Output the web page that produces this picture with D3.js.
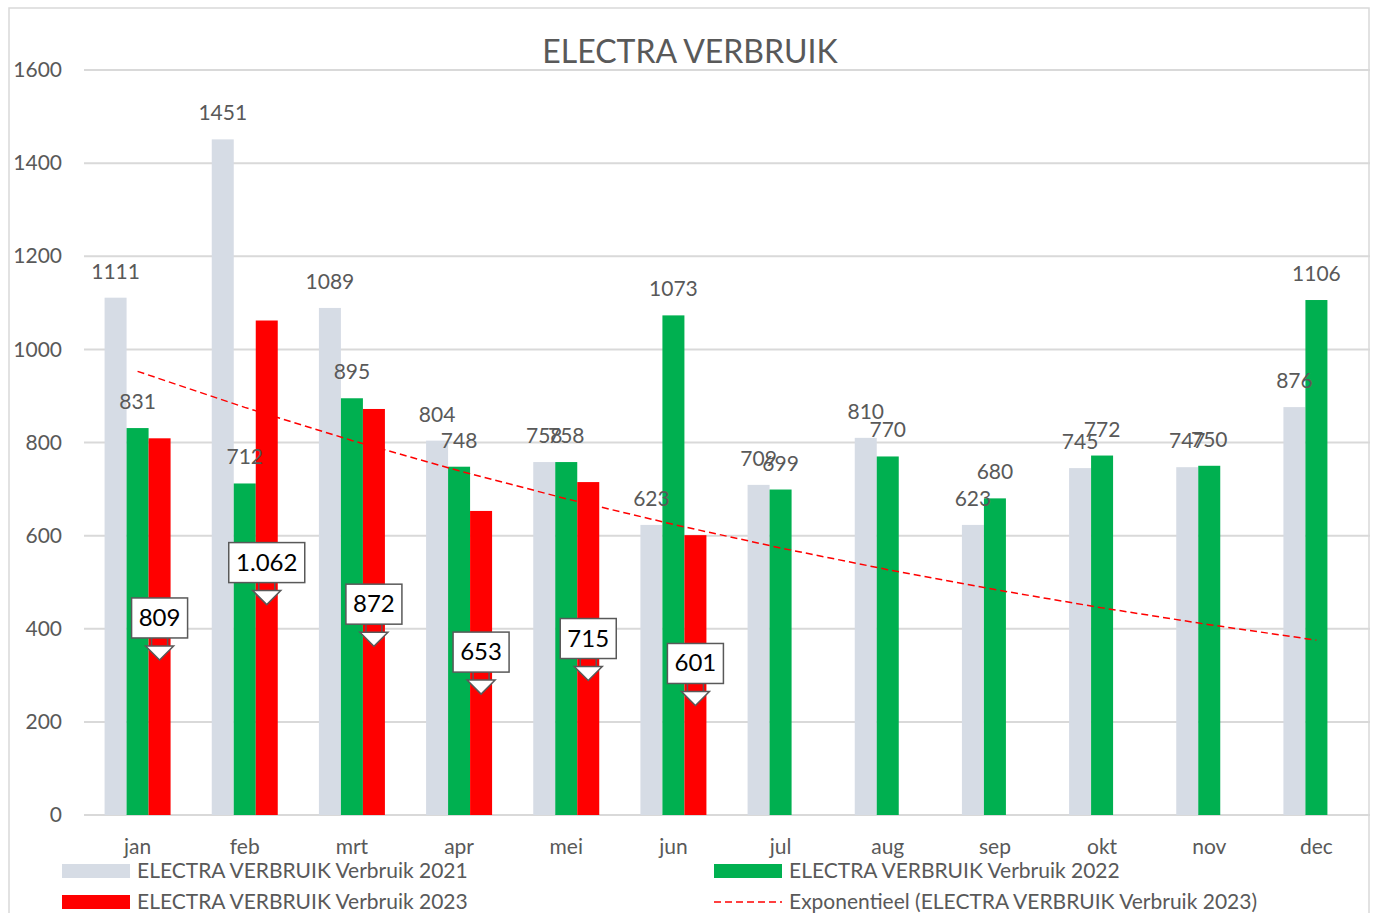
<!DOCTYPE html>
<html>
<head>
<meta charset="utf-8">
<script src="https://cdn.jsdelivr.net/npm/d3@7"></script>
<style>
  body { margin: 0; background: #fff; }
  text { font-family: Lato, "Open Sans", sans-serif; }
</style>
</head>
<body>
<div id="chart"></div>
<script>
// data
var months = ["jan", "feb", "mrt", "apr", "mei", "jun", "jul", "aug", "sep", "okt", "nov", "dec"];
var verbruik2021 = [1111, 1451, 1089, 804, 758, 623, 709, 810, 623, 745, 747, 876];
var verbruik2022 = [831, 712, 895, 748, 758, 1073, 699, 770, 680, 772, 750, 1106];
var verbruik2023 = [809, 1062, 872, 653, 715, 601];
var yTicks = [0, 200, 400, 600, 800, 1000, 1200, 1400, 1600];

var W = 1375, H = 913;
var margin = { top: 70, right: 5, bottom: 98, left: 84 };
var width = W - margin.left - margin.right,
  height = H - margin.top - margin.bottom;

var textColor = "#595959";
var fs = 21;

var svgRoot = d3.select("#chart").append("svg")
  .attr("width", W).attr("height", H);

// chart border
svgRoot.append("rect")
  .attr("x", 9).attr("y", 8)
  .attr("width", 1360).attr("height", 920)
  .attr("fill", "none").attr("stroke", "#d9d9d9").attr("stroke-width", 1.5);

// title
svgRoot.append("text")
  .attr("x", 690).attr("y", 63)
  .attr("text-anchor", "middle")
  .attr("font-size", 32)
  .attr("fill", textColor)
  .text("ELECTRA VERBRUIK");

var svg = svgRoot.append("g")
  .attr("transform", "translate(" + margin.left + "," + margin.top + ")");

var x = d3.scaleBand().domain(months).range([0, width]);
var y = d3.scaleLinear().domain([0, 1600]).range([height, 0]);

var barW = 22;
function barX(m, k) { return x(m) + x.bandwidth() / 2 - 1.5 * barW + k * barW; }

// gridlines
svg.selectAll(".grid").data(yTicks).enter().append("line")
  .attr("x1", 0).attr("x2", width)
  .attr("y1", function (d) { return y(d); })
  .attr("y2", function (d) { return y(d); })
  .attr("stroke", "#d9d9d9").attr("stroke-width", 2);

// y axis labels
var yAxis = svg.append("g").call(d3.axisLeft(y).tickValues(yTicks).tickFormat(d3.format("d")).tickSize(0).tickPadding(22));
yAxis.select(".domain").remove();
yAxis.selectAll("text").attr("font-size", fs).attr("fill", textColor).attr("font-family", "Lato, sans-serif");

// x axis labels
var xAxis = svg.append("g").attr("transform", "translate(0," + height + ")")
  .call(d3.axisBottom(x).tickSize(0).tickPadding(24));
xAxis.select(".domain").remove();
xAxis.selectAll("text").attr("font-size", fs).attr("fill", textColor).attr("font-family", "Lato, sans-serif");

var series = [
  { data: verbruik2021, color: "#d6dce5", k: 0 },
  { data: verbruik2022, color: "#00b050", k: 1 },
  { data: verbruik2023, color: "#ff0000", k: 2 }
];

series.forEach(function (s) {
  svg.selectAll(null).data(s.data).enter().append("rect")
    .attr("x", function (d, i) { return barX(months[i], s.k); })
    .attr("y", function (d) { return y(d); })
    .attr("width", barW)
    .attr("height", function (d) { return height - y(d); })
    .attr("fill", s.color);
});

// exponential trendline on 2023
var n = verbruik2023.length;
var xs = d3.range(1, n + 1);
var lns = verbruik2023.map(function (v) { return Math.log(v); });
var mx = d3.mean(xs), ml = d3.mean(lns);
var b = d3.sum(xs, function (xv, i) { return (xv - mx) * (lns[i] - ml); }) /
  d3.sum(xs, function (xv) { return (xv - mx) * (xv - mx); });
var a = ml - b * mx;
var trend = months.map(function (m, i) { return { m: m, v: Math.exp(a + b * (i + 1)) }; });
svg.append("path")
  .datum(trend)
  .attr("fill", "none")
  .attr("stroke", "#ff0000")
  .attr("stroke-width", 1.5)
  .attr("stroke-dasharray", "7,4")
  .attr("d", d3.line()
    .x(function (d) { return x(d.m) + x.bandwidth() / 2; })
    .y(function (d) { return y(d.v); }));

// data labels 2021 / 2022
[series[0], series[1]].forEach(function (s) {
  svg.selectAll(null).data(s.data).enter().append("text")
    .attr("x", function (d, i) { return barX(months[i], s.k) + barW / 2; })
    .attr("y", function (d) { return y(d) - 19; })
    .attr("text-anchor", "middle")
    .attr("font-size", fs)
    .attr("fill", textColor)
    .text(function (d) { return d; });
});

// callouts 2023
var nl = d3.formatLocale({ decimal: ",", thousands: ".", grouping: [3], currency: ["€", ""] });
var fmt = nl.format(",d");
verbruik2023.forEach(function (v, i) {
  var cx = barX(months[i], 2) + barW / 2;
  var label = fmt(v);
  var bw = label.length > 3 ? 76 : 56;
  var bottom = y(v * 0.47);
  var top = bottom - 40;
  var g = svg.append("g");
  // stem
  g.append("path")
    .attr("d", "M" + (cx - 8) + "," + bottom + "V" + (bottom + 8) + "M" + (cx + 8) + "," + bottom + "V" + (bottom + 8))
    .attr("stroke", "#595959").attr("stroke-width", 1.5);
  // head
  g.append("path")
    .attr("d", "M" + (cx - 14) + "," + (bottom + 8) + "L" + (cx + 14) + "," + (bottom + 8) +
      "L" + cx + "," + (bottom + 22) + "Z")
    .attr("fill", "#fff").attr("stroke", "#595959").attr("stroke-width", 1.5);
  g.append("rect")
    .attr("x", cx - bw / 2).attr("y", top)
    .attr("width", bw).attr("height", 40)
    .attr("fill", "#fff").attr("stroke", "#595959").attr("stroke-width", 1.5);
  g.append("text")
    .attr("x", cx).attr("y", top + 28)
    .attr("text-anchor", "middle")
    .attr("font-size", 24)
    .attr("fill", "#000")
    .text(label);
});

// legend
var legend = [
  { name: "ELECTRA VERBRUIK Verbruik 2021", color: "#d6dce5", x: 62, y: 871, type: "rect" },
  { name: "ELECTRA VERBRUIK Verbruik 2022", color: "#00b050", x: 714, y: 871, type: "rect" },
  { name: "ELECTRA VERBRUIK Verbruik 2023", color: "#ff0000", x: 62, y: 902, type: "rect" },
  { name: "Exponentieel (ELECTRA VERBRUIK Verbruik 2023)", color: "#ff0000", x: 714, y: 902, type: "line" }
];
legend.forEach(function (l) {
  if (l.type === "rect") {
    svgRoot.append("rect").attr("x", l.x).attr("y", l.y - 7)
      .attr("width", 68).attr("height", 14).attr("fill", l.color);
  } else {
    svgRoot.append("line").attr("x1", l.x).attr("x2", l.x + 68)
      .attr("y1", l.y).attr("y2", l.y)
      .attr("stroke", l.color).attr("stroke-width", 1.5).attr("stroke-dasharray", "7,4");
  }
  svgRoot.append("text").attr("x", l.x + 75).attr("y", l.y + 7)
    .attr("font-size", fs).attr("fill", textColor).text(l.name);
});
</script>
</body>
</html>
